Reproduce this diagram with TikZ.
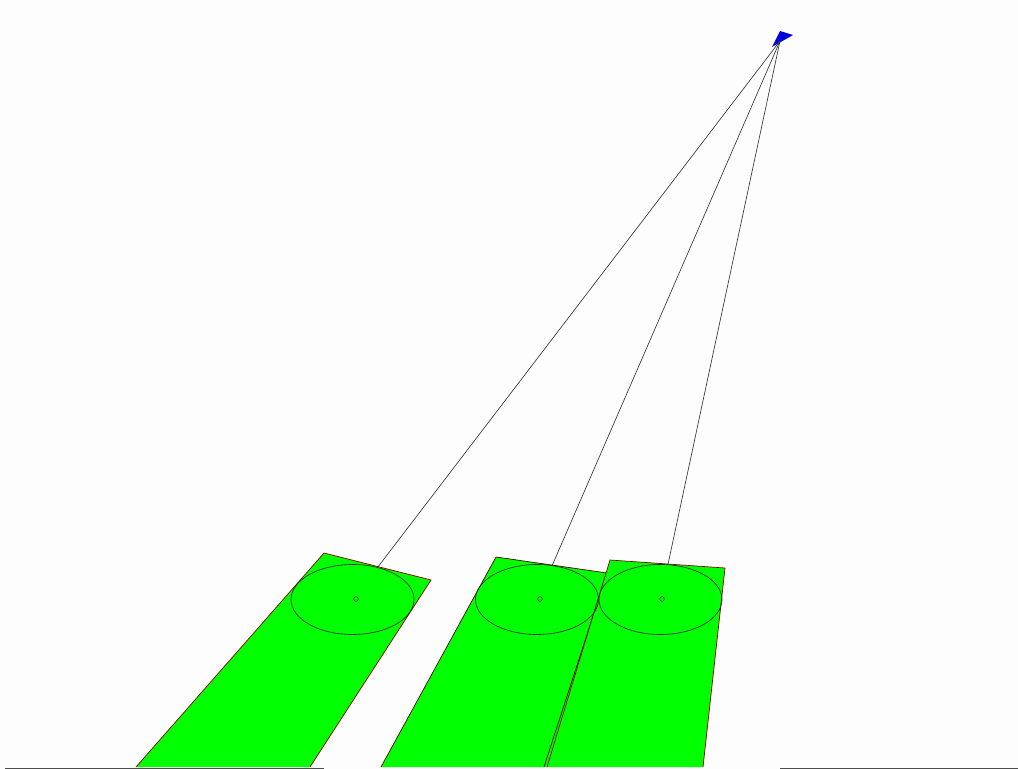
\documentclass[tikz,border=0pt]{standalone}
\usepackage{xcolor}
\usetikzlibrary{positioning,shapes.geometric}
\definecolor{paper}{HTML}{FDFDFD}
\definecolor{stripgreen}{HTML}{00FF00}
\definecolor{viewblue}{HTML}{0000E0}
\tikzset{
  strip/.style={fill=stripgreen},
  stripedge/.style={draw=red!55!black, line width=0.6pt, line join=round},
  ring/.style={draw=black!85, ellipse, inner sep=0pt, line width=0.55pt, minimum width=3.69cm, minimum height=2.1cm},
  spot/.style={draw=black!85, circle, inner sep=0pt, line width=0.5pt, minimum size=0.14cm},
  ray/.style={draw=black!80, line width=0.55pt},
  floorline/.style={draw=black!70, line width=0.8pt}
}
\begin{document}
\begin{tikzpicture}[x=0.03cm, y=-0.03cm]
  \useasboundingbox (0, 0) rectangle (1018, 769);
  \fill[paper] (0, 0) rectangle (1018, 769);

  % Ground lines
  \draw[floorline] (5, 768.5) -- (324, 768.5);
  \draw[floorline] (780, 768.5) -- (1018, 768.5);

  % Strips
  \fill[strip] (324, 553) -- (431, 580) -- (310, 767) -- (136, 767) -- cycle;
  \draw[stripedge] (136, 767) -- (324, 553) -- (431, 580) -- (310, 767);
  \fill[strip] (496, 557) -- (607, 573) -- (610, 560) -- (547, 767) -- (381, 767) -- cycle;
  \draw[stripedge, draw=black!70!red] (381, 767) -- (496, 557) -- (607, 573) -- (544, 767);
  \fill[strip] (610, 560) -- (725, 568) -- (703, 767) -- (547, 767) -- cycle;
  \draw[stripedge] (547, 767) -- (610, 560) -- (725, 568) -- (703, 767);

  % Rings with their centre spots
  \node[ring] (ring1) at (352.5, 599.5) {};
  \node[ring] (ring2) at (537, 599.5) {};
  \node[ring] (ring3) at (660.5, 599.5) {};
  \node[spot] (spot1) at (356, 599) {};
  \node[spot] (spot2) at (540, 599) {};
  \node[spot] (spot3) at (662, 599) {};

  % Viewpoint
  \fill[viewblue] (780, 31) -- (793, 35) -- (772, 47) -- cycle;
  \coordinate (apex) at (780, 41);

  % Rays
  \draw[ray] (apex) -- (ring1.52);
  \draw[ray] (apex) -- (ring2.66);
  \draw[ray] (apex) -- (ring3.78);
\end{tikzpicture}
\end{document}
